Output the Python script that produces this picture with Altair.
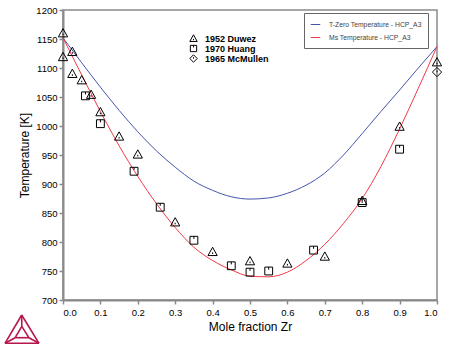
import altair as alt
import pandas as pd

# ---- calculated curves (K) ----
x_grid = [0.0, 0.05, 0.1, 0.15, 0.2, 0.25, 0.3, 0.35, 0.4, 0.45, 0.5,
          0.55, 0.6, 0.65, 0.7, 0.75, 0.8, 0.85, 0.9, 0.95, 1.0]
tzero_T = [1152, 1109, 1067, 1027, 990, 957, 929, 905, 889, 878, 874,
           876, 884, 898, 919, 950, 987, 1025, 1062, 1100, 1137]
ms_T = [1152, 1088, 1025, 966, 913, 866, 825, 791, 768, 752, 741,
        740, 748, 768, 796, 832, 875, 930, 995, 1065, 1137]
series_names = ["T-Zero Temperature - HCP_A3", "Ms Temperature - HCP_A3"]
line_colors = ["#4654ad", "#f03a46"]

# ---- experimental data ----
duwez_x = [0.0, 0.0, 0.025, 0.025, 0.05, 0.075, 0.1, 0.15, 0.2, 0.3, 0.4,
           0.5, 0.6, 0.7, 0.8, 0.9, 1.0]
duwez_T = [1160, 1119, 1128, 1090, 1079, 1054, 1024, 982, 951, 834, 783,
           767, 763, 775, 871, 999, 1110]
huang_x = [0.06, 0.1, 0.19, 0.26, 0.35, 0.45, 0.5, 0.55, 0.67, 0.8, 0.9]
huang_T = [1052, 1004, 922, 860, 803, 759, 748, 750, 786, 868, 960]
mcmullen_x = [1.0]
mcmullen_T = [1093]
source_names = ["1952 Duwez", "1970 Huang", "1965 McMullen"]

x_ticks = [round(i * 0.1, 1) for i in range(11)]
y_ticks = list(range(700, 1201, 50))

# symbol paths (decoration)
shape_paths = [
    "M0,-1L1,0.8L-1,0.8Z M0,0.1L0,0.45",
    "M-0.85,-0.85H0.85V0.85H-0.85Z M0,-0.85V-0.3",
    "M0,-1L1,0L0,1L-1,0Z M0,-0.35V0.05",
]

curves = pd.concat([
    pd.DataFrame({"x": x_grid, "T": tzero_T, "series": series_names[0]}),
    pd.DataFrame({"x": x_grid, "T": ms_T, "series": series_names[1]}),
])
points = pd.concat([
    pd.DataFrame({"x": duwez_x, "T": duwez_T, "source": source_names[0]}),
    pd.DataFrame({"x": huang_x, "T": huang_T, "source": source_names[1]}),
    pd.DataFrame({"x": mcmullen_x, "T": mcmullen_T, "source": source_names[2]}),
])

xscale = alt.Scale(domain=[0, 1], nice=False, zero=False)
yscale = alt.Scale(domain=[700, 1200], nice=False, zero=False)

xaxis = alt.Axis(title="Mole fraction Zr", values=x_ticks, format=".1f",
                 labelPadding=3, titlePadding=5)
yaxis = alt.Axis(title="Temperature [K]", values=y_ticks, format="d",
                 labelPadding=2, titlePadding=4)

lines = alt.Chart(curves).mark_line(strokeWidth=1, interpolate="monotone").encode(
    x=alt.X("x:Q", scale=xscale, axis=xaxis),
    y=alt.Y("T:Q", scale=yscale, axis=yaxis),
    color=alt.Color("series:N",
                    scale=alt.Scale(domain=series_names, range=line_colors),
                    sort=series_names,
                    legend=alt.Legend(title=None, orient="none", legendX=241, legendY=3,
                                      symbolType="stroke", symbolSize=90,
                                      symbolStrokeWidth=1, labelFontSize=6.8,
                                      labelColor="#444", labelOffset=8,
                                      padding=6, rowPadding=3,
                                      strokeColor="#666", fillColor="white")),
    detail="series:N",
)

pts = alt.Chart(points).mark_point(filled=False, color="black", strokeWidth=1,
                                   size=85, opacity=1).encode(
    x=alt.X("x:Q", scale=xscale, axis=None),
    y=alt.Y("T:Q", scale=yscale, axis=None),
    shape=alt.Shape("source:N",
                    scale=alt.Scale(domain=source_names, range=shape_paths),
                    sort=source_names,
                    legend=alt.Legend(title=None, orient="none", legendX=126, legendY=24,
                                      symbolSize=55, symbolStrokeColor="black",
                                      symbolFillColor="transparent",
                                      symbolStrokeWidth=1, labelFontSize=9,
                                      labelFontWeight="bold", labelColor="black",
                                      labelOffset=7, padding=0, rowPadding=-12,
                                      labelLimit=200)),
)

# Thermo-Calc style logo (decoration), in pixel units relative to the plot origin
logo = pd.DataFrame({
    "x1": [-41.3, -58, -24, -41.3, -58, -24, -41.2, -47.8, -34.1],
    "y1": [305, 333.3, 333.3, 305, 333.3, 333.3, 316.3, 327.7, 327.7],
    "x2": [-58, -24, -41.3, -41.2, -47.8, -34.1, -47.8, -34.1, -41.2],
    "y2": [333.3, 333.3, 305, 316.3, 327.7, 327.7, 327.7, 327.7, 316.3],
})
logo_layer = alt.Chart(logo).mark_rule(color="#b5174a", strokeWidth=1.6).encode(
    x=alt.X("x1:Q", scale=None, axis=None), y=alt.Y("y1:Q", scale=None, axis=None),
    x2="x2:Q", y2="y2:Q",
)

chart = alt.layer(lines, pts, logo_layer).resolve_scale(
    x="independent", y="independent"
).properties(
    width=374, height=290,
    autosize=alt.AutoSizeParams(type="none"),
    padding={"left": 63, "top": 10, "right": 13, "bottom": 51},
).configure_view(
    stroke="#8a8a8a", strokeWidth=1.5
).configure_axis(
    labelFont="Liberation Sans", titleFont="Liberation Sans",
    labelFontSize=9.5, titleFontSize=12, titleFontWeight="normal",
    labelColor="black", titleColor="black",
    domainColor="#8a8a8a", domainWidth=2, tickColor="#8a8a8a",
    tickSize=4, tickWidth=1.5, grid=False,
).configure_legend(
    labelFont="Liberation Sans",
)

chart.save("out.html", embed_options={"renderer": "svg", "actions": False})
